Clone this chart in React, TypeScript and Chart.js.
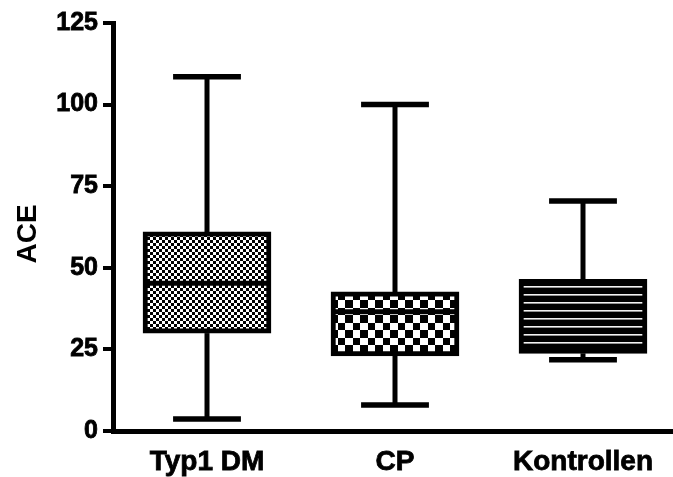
import React, { useEffect, useRef } from "react";
import { Chart, registerables } from "chart.js";

Chart.register(...registerables);

// Box plot of ACE per group
const categories = ["Typ1 DM", "CP", "Kontrollen"];
const whiskerLow = [3.7, 8, 21.8];
const q1 = [30, 23, 23.8];
const medians = [45.3, 36.5, 25.5];
const q3 = [61, 42.6, 46.5];
const whiskerHigh = [108.5, 100, 70.5];
const yTicks = [0, 25, 50, 75, 100, 125];

const FONT = '"Liberation Sans", Arial, Helvetica, sans-serif';

function makePattern(kind: string): CanvasPattern | string {
  const c = document.createElement("canvas");
  const g = c.getContext("2d");
  if (!g) return "#000";
  if (kind === "fine") {
    const s = 3;
    c.width = c.height = s * 2;
    g.fillStyle = "#fff";
    g.fillRect(0, 0, s * 2, s * 2);
    g.fillStyle = "#000";
    g.fillRect(0, 0, s, s);
    g.fillRect(s, s, s, s);
  } else if (kind === "coarse") {
    c.width = c.height = 15;
    g.fillStyle = "#fff";
    g.fillRect(0, 0, 15, 15);
    g.fillStyle = "#000";
    g.fillRect(0, 0, 8, 8);
    g.fillRect(8, 8, 7, 7);
  } else {
    c.width = 8;
    c.height = 8;
    g.fillStyle = "#000";
    g.fillRect(0, 0, 8, 8);
    g.fillStyle = "#f2f2f2";
    g.fillRect(0, 6, 8, 1.6);
  }
  const p = g.createPattern(c, "repeat");
  return p || "#000";
}

const whiskerPlugin = {
  id: "whiskers",
  afterDatasetsDraw(chart: any) {
    const ctx = chart.ctx;
    const y = chart.scales.y;
    const meta = chart.getDatasetMeta(0);
    const line = (x1: number, y1: number, x2: number, y2: number, w: number) => {
      ctx.lineWidth = w;
      ctx.beginPath();
      ctx.moveTo(x1, y1);
      ctx.lineTo(x2, y2);
      ctx.stroke();
    };
    ctx.save();
    ctx.strokeStyle = "#000";
    ctx.lineCap = "butt";
    meta.data.forEach((bar: any, i: number) => {
      const x = bar.x;
      const w = bar.width;
      const capHalf = w * 0.265;
      const yHi = y.getPixelForValue(whiskerHigh[i]);
      const yQ3 = y.getPixelForValue(q3[i]);
      const yLo = y.getPixelForValue(whiskerLow[i]);
      const yQ1 = y.getPixelForValue(q1[i]);
      const yMed = y.getPixelForValue(medians[i]);
      line(x, yQ3, x, yHi, 5);
      line(x - capHalf, yHi, x + capHalf, yHi, 5.5);
      line(x, yQ1, x, yLo, 5);
      line(x - capHalf, yLo, x + capHalf, yLo, 5.5);
      line(x - w / 2, yMed, x + w / 2, yMed, 5);
    });
    ctx.restore();
  },
};

export default function App() {
  const ref = useRef<HTMLCanvasElement | null>(null);

  useEffect(() => {
    document.body.style.margin = "0";
    const canvas = ref.current;
    if (!canvas) return;
    const fills = [makePattern("fine"), makePattern("coarse"), makePattern("stripes")];
    const chart = new Chart(canvas, {
      type: "bar",
      data: {
        labels: categories,
        datasets: [
          {
            data: categories.map((_, i) => [q1[i], q3[i]]) as any,
            backgroundColor: fills as any,
            borderColor: "#000",
            borderWidth: 5,
            borderSkipped: false,
            barThickness: 128,
          },
        ],
      },
      options: {
        animation: false,
        responsive: true,
        maintainAspectRatio: false,
        layout: { padding: { top: 23, left: 0, right: 0, bottom: 0 } },
        plugins: {
          legend: { display: false },
          tooltip: { enabled: false },
        },
        scales: {
          x: {
            grid: { display: false, drawTicks: false },
            border: { display: true, color: "#000", width: 5 },
            ticks: {
              color: "#000",
              padding: 14,
              textStrokeColor: "#000",
              textStrokeWidth: 0.8,
              font: { family: FONT, size: 28, weight: "bold" },
            },
            afterFit(scale: any) {
              scale.height = 46;
            },
          },
          y: {
            min: 0,
            max: 125,
            afterBuildTicks(scale: any) {
              scale.ticks = yTicks.map((v) => ({ value: v }));
            },
            grid: {
              drawOnChartArea: false,
              drawTicks: true,
              tickLength: 10,
              lineWidth: 4,
              color: "#000",
            },
            border: { display: true, color: "#000", width: 5 },
            ticks: {
              color: "#000",
              padding: 5,
              autoSkip: false,
              textStrokeColor: "#000",
              textStrokeWidth: 0.8,
              font: { family: FONT, size: 25, weight: "bold" },
            },
            title: {
              display: true,
              text: "ACE\u2002",
              color: "#000",
              padding: { top: 11, bottom: 0 },
              font: { family: FONT, size: 28, weight: "bold" },
            },
            afterFit(scale: any) {
              scale.width = 113;
            },
          },
        },
      } as any,
      plugins: [whiskerPlugin],
    });
    return () => chart.destroy();
  }, []);

  return (
    <div style={{ width: 673, height: 477, overflow: "hidden", position: "relative" }}>
      <div style={{ width: 677, height: 477, position: "relative" }}>
        <canvas ref={ref} />
      </div>
    </div>
  );
}
